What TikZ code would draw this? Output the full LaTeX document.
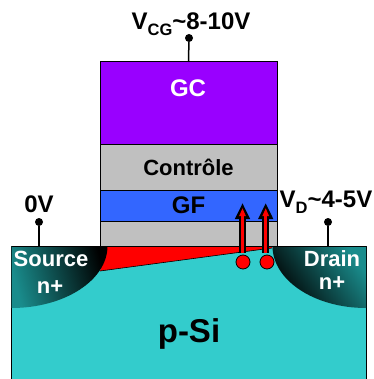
\documentclass[tikz,border=0pt]{standalone}
\usepackage{fontspec}
\setmainfont{Liberation Sans}
\usetikzlibrary{positioning,arrows.meta}
\definecolor{sicyan}{HTML}{33CCCC}
\definecolor{gcpurple}{HTML}{9900FF}
\definecolor{gfblue}{HTML}{3366FF}
\definecolor{oxgray}{HTML}{C0C0C0}
\definecolor{nteal}{HTML}{007F7F}
\newcommand{\biased}[2]{V\raisebox{-6pt}{\fontsize{16.5}{16.5}\selectfont #1}\textasciitilde #2}
\tikzset{
    layer/.style={draw, line width=1pt, minimum width=177pt, inner sep=0pt, outer sep=0pt},
    lab/.style={font=\fontsize{#1}{#1}\selectfont\bfseries, inner sep=0pt, anchor=base},
    lab/.default=24,
    pin/.style={circle, fill=black, inner sep=0pt, minimum size=8pt},
    wire/.style={line width=1.5pt},
    electron/.style={circle, draw, fill=red, line width=0.8pt, inner sep=0pt, minimum size=14pt},
    hot/.style={line width=7pt, -{Triangle[length=16pt 0 0, width=14pt 0 0]},
        postaction={draw=red, line width=3pt, shorten >=5pt, -{Triangle[length=8pt 0 0, width=6pt 0 0]}}}
}
\begin{document}
\begin{tikzpicture}[x=1pt, y=-1pt, node distance=0pt]
    \clip (0,0) rectangle (373,379);

    \node[draw, line width=1pt, fill=sicyan, minimum width=354.5pt, minimum height=150pt, inner sep=0pt, outer sep=0pt, anchor=north west] (sub) at (11.5,246) {};
    \node[lab=33] (psi) at (189,342) {p-Si};

    \fill[red] (100,271) -- (107.5,246) -- (272,246) -- (272,248) -- cycle;
    \draw[line width=0.6pt] (100,271) -- (272,248);
    \shade[left color=nteal!90!white, middle color=nteal!80!black, right color=black, shading angle=105] (11.5,246) -- (107.5,246)
        arc[start angle=0, end angle=90, x radius=96, y radius=62] -- cycle;
    \shade[left color=black, middle color=nteal!80!black, right color=nteal!90!white, shading angle=125] (366,246) -- (272.5,246)
        arc[start angle=180, end angle=90, x radius=93.5, y radius=62] -- cycle;
    \draw[line width=1pt] (11.5,246) -- (366,246);

    \node[layer, fill=gcpurple, minimum height=83pt, anchor=north] (gc) at (188.5,62) {};
    \node[layer, fill=oxgray, minimum height=45pt, below=of gc, font=\fontsize{22}{22}\selectfont\bfseries] (ctrl) {Contrôle};
    \node[layer, fill=gfblue, minimum height=31pt, below=of ctrl, font=\fontsize{24}{24}\selectfont\bfseries] (gf) {GF};
    \node[layer, fill=oxgray, minimum height=25pt, below=of gf] (ox) {};
    \node[lab, white] (gctxt) at (188,97) {GC};

    \node[lab=22, white] (srctxt) at (51,266) {Source};
    \node[lab=22, white] (srcn) at (50,293) {n+};
    \node[lab=22, white] (drntxt) at (332,266) {Drain};
    \node[lab=22, white] (drnn) at (332,289) {n+};

    \node[electron] (e1) at (243,262) {};
    \node[electron] (e2) at (267,262) {};
    \coordinate (t1) at (242.5,203);
    \coordinate (t2) at (265.7,203);
    \draw[hot] (242.5,253) -- (t1);
    \draw[hot] (265.7,253) -- (t2);

    \node[pin] (pcg) at (189,38) {};
    \node[pin] (ps) at (39,222) {};
    \node[pin] (pd) at (328,222) {};
    \coordinate (as) at (39,246);
    \coordinate (ad) at (328,246);
    \draw[wire] (pcg) -- (gc.north);
    \draw[wire] (ps) -- (as);
    \draw[wire] (pd) -- (ad);

    \node[lab] (vcg) at (191,30) {\biased{CG}{8-10V}};
    \node[lab] (v0) at (39,212) {0V};
    \node[lab] (vd) at (326,207) {\biased{D}{4-5V}};
\end{tikzpicture}
\end{document}
